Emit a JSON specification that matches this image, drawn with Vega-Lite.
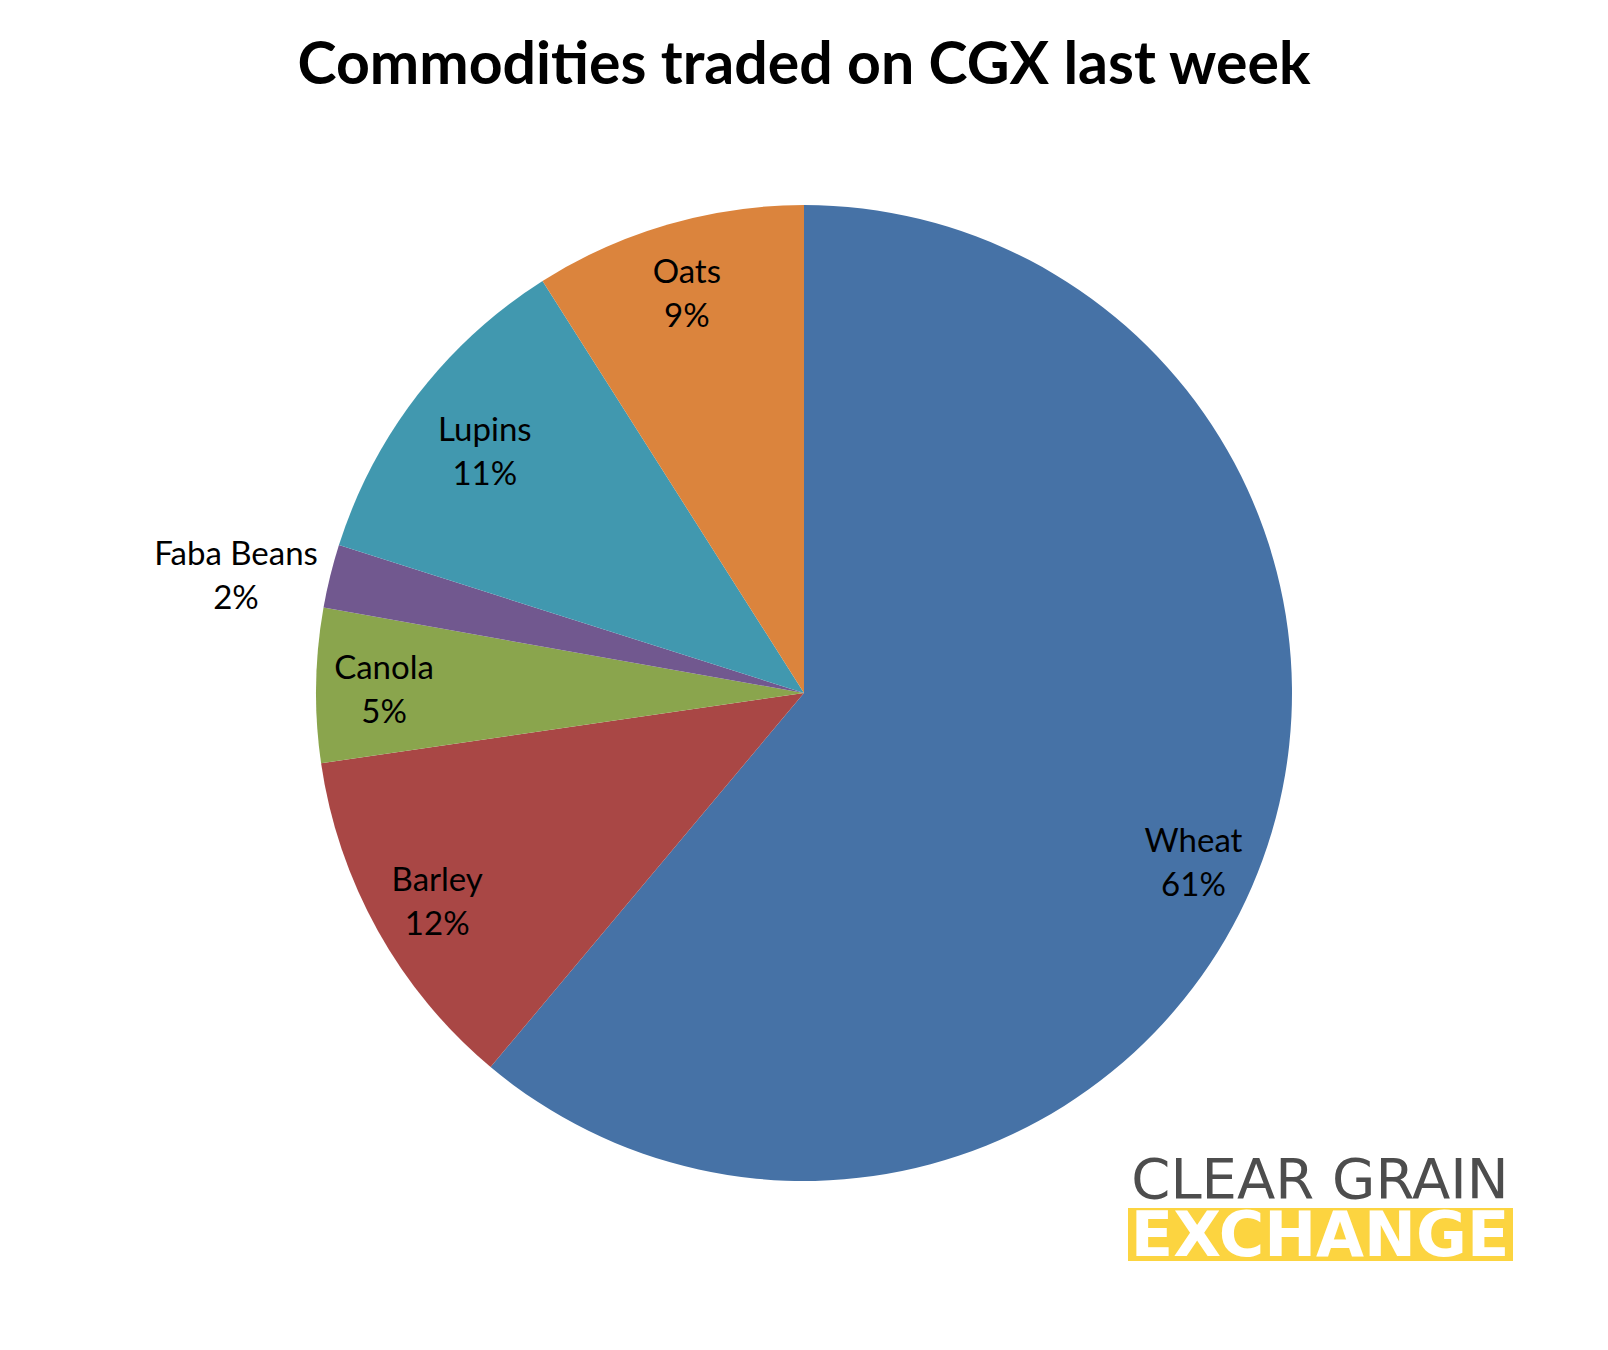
{
  "$schema": "https://vega.github.io/schema/vega-lite/v6.json",
  "width": 1608,
  "height": 1100,
  "autosize": {"type": "none"},
  "padding": {"top": 143, "bottom": 107, "left": 0, "right": 0},
  "background": "white",
  "config": {"view": {"stroke": null}},
  "layer": [
    {
      "data": {
        "values": [
          {"name": "Wheat", "value": 0.611, "idx": 1, "label": "Wheat\n61%"},
          {"name": "Barley", "value": 0.116, "idx": 2, "label": "Barley\n12%"},
          {"name": "Canola", "value": 0.051, "idx": 3, "label": "Canola\n5%"},
          {"name": "Faba Beans", "value": 0.021, "idx": 4, "label": "Faba Beans\n2%"},
          {"name": "Lupins", "value": 0.111, "idx": 5, "label": "Lupins\n11%"},
          {"name": "Oats", "value": 0.09, "idx": 6, "label": "Oats\n9%"}
        ]
      },
      "layer": [
        {
          "mark": {"type": "arc", "outerRadius": 488},
          "encoding": {
            "theta": {"field": "value", "type": "quantitative", "stack": true},
            "order": {"field": "idx", "type": "quantitative"},
            "color": {
              "field": "name",
              "type": "nominal",
              "scale": {
                "domain": ["Wheat", "Barley", "Canola", "Faba Beans", "Lupins", "Oats"],
                "range": ["#4672A6", "#A94745", "#8AA54D", "#71588F", "#4198AF", "#DB843D"]
              },
              "legend": null
            }
          }
        },
        {
          "mark": {"type": "text", "radius": 420, "font": "Lato", "fontSize": 33, "lineBreak": "\n", "lineHeight": 44, "color": "black", "align": "center", "baseline": "middle", "dy": -17},
          "encoding": {
            "theta": {"field": "value", "type": "quantitative", "stack": true},
            "order": {"field": "idx", "type": "quantitative"},
            "text": {"condition": {"test": "datum.name === 'Barley' || datum.name === 'Canola' || datum.name === 'Oats'", "field": "label"}, "value": ""}
          }
        },
        {
          "mark": {"type": "text", "radius": 408, "font": "Lato", "fontSize": 33, "lineBreak": "\n", "lineHeight": 44, "color": "black", "align": "center", "baseline": "middle", "dy": -13, "dx": 4},
          "encoding": {
            "theta": {"field": "value", "type": "quantitative", "stack": true},
            "order": {"field": "idx", "type": "quantitative"},
            "text": {"condition": {"test": "datum.name === 'Lupins'", "field": "label"}, "value": ""}
          }
        },
        {
          "mark": {"type": "text", "radius": 424, "font": "Lato", "fontSize": 33, "lineBreak": "\n", "lineHeight": 44, "color": "black", "align": "center", "baseline": "middle", "dy": 4, "dx": -9},
          "encoding": {
            "theta": {"field": "value", "type": "quantitative", "stack": true},
            "order": {"field": "idx", "type": "quantitative"},
            "text": {"condition": {"test": "datum.name === 'Wheat'", "field": "label"}, "value": ""}
          }
        },
        {
          "mark": {"type": "text", "radius": 584, "font": "Lato", "fontSize": 33, "lineBreak": "\n", "lineHeight": 44, "color": "black", "align": "center", "baseline": "middle", "dy": 2, "dx": -1},
          "encoding": {
            "theta": {"field": "value", "type": "quantitative", "stack": true},
            "order": {"field": "idx", "type": "quantitative"},
            "text": {"condition": {"test": "datum.name === 'Faba Beans'", "field": "label"}, "value": ""}
          }
        }
      ]
    },
    {
      "data": {"values": [{"band": "logo"}]},
      "layer": [
        {
          "mark": {"type": "rect", "color": "#FCD440"},
          "encoding": {
            "x": {"datum": 1128, "type": "quantitative", "scale": {"domain": [0, 1608], "nice": false, "zero": false}, "axis": null},
            "x2": {"datum": 1513},
            "y": {"datum": 1065, "type": "quantitative", "scale": {"domain": [0, 1100], "nice": false, "zero": false, "reverse": true}, "axis": null},
            "y2": {"datum": 1118}
          }
        },
        {
          "mark": {"type": "text", "text": "CLEAR GRAIN", "font": "DejaVu Sans", "fontSize": 56, "color": "#4D4D4D", "align": "center", "baseline": "alphabetic"},
          "encoding": {
            "x": {"datum": 1320, "type": "quantitative"},
            "y": {"datum": 1055, "type": "quantitative"}
          }
        },
        {
          "mark": {"type": "text", "text": "EXCHANGE", "font": "DejaVu Sans", "fontWeight": "bold", "fontSize": 62, "color": "white", "align": "center", "baseline": "alphabetic"},
          "encoding": {
            "x": {"datum": 1320, "type": "quantitative"},
            "y": {"datum": 1113, "type": "quantitative"}
          }
        },
        {
          "mark": {"type": "text", "text": "Commodities traded on CGX last week", "font": "Lato", "fontSize": 59, "fontWeight": "bold", "color": "black", "align": "center", "baseline": "alphabetic"},
          "encoding": {
            "x": {"datum": 804, "type": "quantitative"},
            "y": {"datum": -59, "type": "quantitative"}
          }
        }
      ]
    }
  ]
}
